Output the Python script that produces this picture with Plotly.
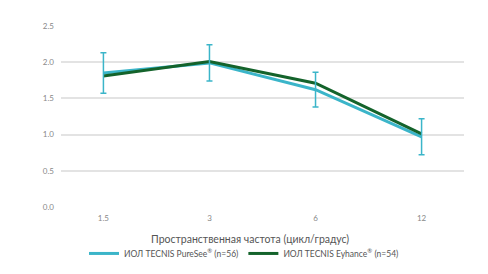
import plotly.graph_objects as go

categories = ["1.5", "3", "6", "12"]
tick_text = ["1.5", "3", "6", "12"]
puresee = [1.85, 1.99, 1.62, 0.97]
puresee_err = [0.28, 0.25, 0.24, 0.25]
eyhance = [1.81, 2.01, 1.71, 1.01]
x_title = "Пространственная частота (цикл/градус)"

cyan = "#3bb5c9"
green = "#14632b"

fig = go.Figure()
fig.add_trace(go.Scatter(x=categories, y=puresee, mode="lines",
                         line=dict(color=cyan, width=3),
                         name="ИОЛ TECNIS PureSee<sup>®</sup> (n=56)"))
fig.add_trace(go.Scatter(x=categories, y=eyhance, mode="lines",
                         line=dict(color=green, width=3),
                         name="ИОЛ TECNIS Eyhance<sup>®</sup> (n=54)"))
fig.add_trace(go.Scatter(x=categories, y=puresee, mode="markers",
                         marker=dict(size=0.1, color=cyan, opacity=0),
                         error_y=dict(type="data", array=puresee_err, visible=True,
                                      color=cyan, thickness=1.5, width=3),
                         showlegend=False, hoverinfo="skip"))

fig.add_annotation(text=x_title, xref="paper", yref="paper",
                   x=0.47, y=-0.177, xanchor="center", yanchor="middle",
                   showarrow=False, font=dict(size=10.5, color="#555"))

fig.update_layout(
    width=488, height=274,
    margin=dict(l=61, r=24, t=26, b=67, autoexpand=False),
    paper_bgcolor="white", plot_bgcolor="white",
    font=dict(family="Lato, Open Sans, sans-serif", color="#666"),
    xaxis=dict(type="category", range=[-0.4, 3.4],
               tickvals=categories, ticktext=tick_text,
               showgrid=False, zeroline=False, showline=False,
               tickfont=dict(size=8, color="#888"), ticks="",
               ticklabelstandoff=5),
    yaxis=dict(range=[0, 2.5], dtick=0.5, tickformat=".1f",
               showgrid=True, gridcolor="#e3e3e3", gridwidth=1.5,
               zeroline=False, showline=False,
               tickfont=dict(size=8, color="#888"), ticks="",
               ticklabelstandoff=6),
    legend=dict(orientation="h", x=0.5, xanchor="center",
                xref="container", yref="container",
                y=0.075, yanchor="middle",
                font=dict(size=8.5, color="#555"),
                traceorder="normal"),
    showlegend=True,
)

fig.write_html("out.html")
